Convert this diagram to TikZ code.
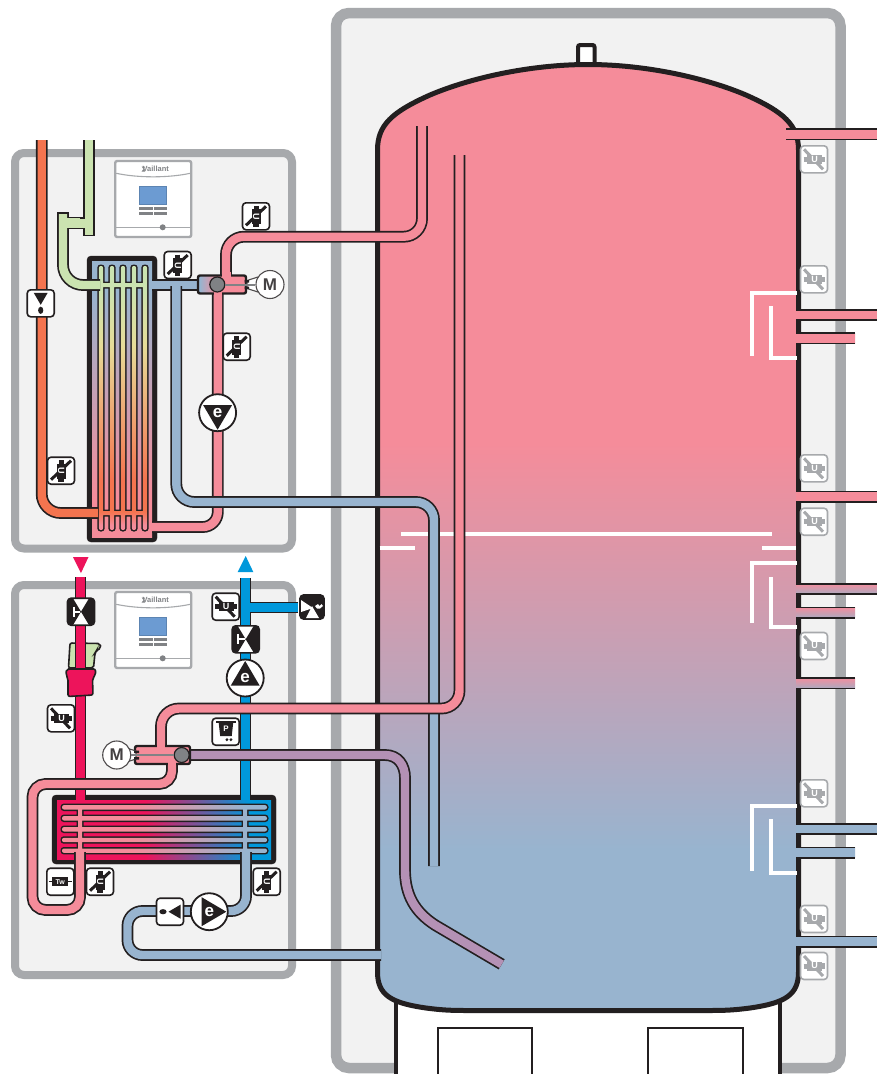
\documentclass[tikz,border=0pt]{standalone}
\usepackage{fontspec}
\setsansfont{Liberation Sans}
\usepackage{xcolor}
\definecolor{C_LINE}  {HTML}{231F20}
\definecolor{C_FRAME} {HTML}{A7A9AC}
\definecolor{C_PANEL} {HTML}{F2F2F2}
\definecolor{C_PINK}  {HTML}{F58C9A}
\definecolor{C_BLUE}  {HTML}{98B4CF}
\definecolor{C_ORANGE}{HTML}{F4744F}
\definecolor{C_GREEN} {HTML}{CBE3B0}
\definecolor{C_YEL}   {HTML}{E6DC98}
\definecolor{C_RED}   {HTML}{ED145B}
\definecolor{C_CYAN}  {HTML}{0098DB}
\definecolor{C_PURPLE}{HTML}{B491B5}
\definecolor{C_GREY}  {HTML}{808285}
\definecolor{C_SCREEN}{HTML}{6C9BD2}
\definecolor{C_MIXT}  {HTML}{F08FA0}
\definecolor{C_MIXB}  {HTML}{ABAABF}

%% -- gradients (25bp..75bp of each one spans the filled path) --
\pgfdeclareverticalshading{tankshade}{100bp}{color(0bp)=(C_BLUE); color(33.5bp)=(C_BLUE); color(55bp)=(C_PINK); color(100bp)=(C_PINK)}
\pgfdeclareverticalshading{hxupbg}{100bp}{color(0bp)=(C_PINK); color(31.7bp)=(C_PINK); color(69.7bp)=(C_BLUE); color(100bp)=(C_BLUE)}
\pgfdeclareverticalshading{hxuptube}{100bp}{color(0bp)=(C_PINK); color(26bp)=(C_PINK); color(28.5bp)=(C_ORANGE); color(34.5bp)=(C_ORANGE); color(60bp)=(C_YEL); color(70.5bp)=(C_GREEN); color(100bp)=(C_GREEN)}
\pgfdeclarehorizontalshading{hxlowbg}{100bp}{color(0bp)=(C_RED); color(45.6bp)=(C_RED); color(70bp)=(C_CYAN); color(100bp)=(C_CYAN)}
\pgfdeclarehorizontalshading{hxlowtube}{100bp}{color(0bp)=(C_PINK); color(42bp)=(C_PINK); color(70bp)=(C_BLUE); color(100bp)=(C_BLUE)}
\pgfdeclarehorizontalshading{valveshade}{100bp}{color(0bp)=(C_BLUE); color(27bp)=(C_BLUE); color(44bp)=(C_PINK); color(100bp)=(C_PINK)}

\tikzset{
  %% -- grey service panels --
  panel/frame/.style={draw=C_FRAME, fill=C_PANEL, line width=8pt, rounded corners=9pt},
  %% -- water pipe with black edges --
  pipe/main/.style={draw=C_LINE, double=#1, double distance=8.4pt, line width=1.7pt},
  %% -- symbol boxes --
  icon/box/.style={
    rectangle, rounded corners=3.5pt, minimum size=27pt, inner sep=0pt,
    fill=white, line width=1.6pt
  },
  icon/pump/.style={
    circle, minimum size=37pt, inner sep=0pt, fill=white, draw=C_LINE, line width=1.8pt
  },
  icon/motor/.style={
    circle, minimum size=28pt, inner sep=0pt, fill=white, draw=C_LINE!80, line width=1.1pt,
    font=\sffamily\bfseries\fontsize{17}{17}\selectfont, text=C_LINE!85
  },
  icon/hub/.style={circle, minimum size=15pt, inner sep=0pt, fill=C_GREY, draw=C_LINE, line width=1.2pt},
  icon/letter/.style={inner sep=0pt, text=white, font=\sffamily\bfseries\fontsize{#1}{#1}\selectfont},
  %% -- room controller --
  ctrl/box/.style={
    rectangle, rounded corners=2pt, minimum size=76pt, inner sep=0pt,
    fill=white, draw=C_FRAME, line width=2.4pt
  },
}

%% -- temperature sensor: name, x, y, angle, colour --
\newcommand{\sensoricon}[5]{
  \node[icon/box, draw=#5] (#1) at (#2,#3) {};
  \begin{scope}[shift={(#1.center)}, rotate=#4]
    \draw[#5, line width=5pt] (-10.5,0) -- (-5,0);
    \draw[#5, line width=9pt] (-7,0) -- (8,0);
    \draw[#5, line width=5.5pt] (7,0) -- (11,0);
    \draw[#5, line width=3pt] (-10,-10) -- (9,10);
    \node[icon/letter=9, transform shape] (#1L) at (0.5,-0.2) {U};
  \end{scope}
}
%% -- check valve: name, x, y, angle --
\newcommand{\checkicon}[4]{
  \node[icon/box, draw=C_LINE] (#1) at (#2,#3) {};
  \begin{scope}[shift={(#1.center)}, rotate=#4]
    \fill[C_LINE] (-7,-10.5) -- (7,-10.5) -- (0,1.5) -- cycle;
    \fill[C_LINE] (0,7) ellipse (2.6 and 3.6);
  \end{scope}
}
%% -- shut-off valve: name, x, y --
\newcommand{\shutoff}[3]{
  \node[icon/box, draw=C_LINE] (#1) at (#2,#3) {};
  \begin{scope}[shift={(#1.center)}]
    \begin{scope}
      \clip[rounded corners=3.5pt] (-13.5,-13.5) rectangle (13.5,13.5);
      \fill[C_LINE] (-13.5,-15) -- (-9,-15) -- (0,0) -- (-9,15) -- (-13.5,15) -- cycle;
      \fill[C_LINE] (13.5,-15) -- (9,-15) -- (0,0) -- (9,15) -- (13.5,15) -- cycle;
    \end{scope}
    \draw[white, line width=2pt] (-7.5,-5) -- (-7.5,5) (-7.5,0) -- (-1,0);
  \end{scope}
}
%% -- circulation pump: name, x, y, angle --
\newcommand{\pumpicon}[4]{
  \node[icon/pump] (#1) at (#2,#3) {};
  \begin{scope}[shift={(#1.center)}, rotate=#4]
    \fill[C_LINE] (0,-17) -- (14.5,7.7) -- (-14.5,7.7) -- cycle;
  \end{scope}
  \node[icon/letter=17] (#1L) at (#2,#3) {e};
}
%% -- room controller: name, x, y --
\newcommand{\ctrlbox}[3]{
  \node[ctrl/box] (#1) at (#2,#3) {};
  \begin{scope}[shift={(#1.center)}]
    \draw[C_FRAME, line width=1.1pt] (-37,-25.7) .. controls (-15,-21) and (15,-21) .. (37,-25.7);
    \node[inner sep=0pt, text=C_GREY, font=\sffamily\bfseries\fontsize{7.5}{7.5}\selectfont] (#1T) at (2.5,-30) {Vaillant};
    \fill[C_GREY] (-11.5,-32.5) -- (-8,-32.5) -- (-11.5,-27.5) -- (-8,-27.5) -- cycle;
    \fill[C_SCREEN!85!black] (-14.2,-13.5) rectangle (13.8,6);
    \fill[C_SCREEN] (-13.2,-12.5) rectangle (12.8,5);
    \foreach \yy in {8.2,12.6} {
      \fill[C_GREY] (-14.2,\yy) rectangle (-0.6,\yy+3.2);
      \fill[C_GREY] (0.4,\yy) rectangle (13.8,\yy+3.2);
    }
    \draw[C_FRAME, line width=0.9pt] (-37,28.3) -- (37,28.3);
    \fill[C_GREY] (9.5,28.3) circle (3);
  \end{scope}
}
%% -- outline of the storage vessel --
\newcommand{\tankpath}{
  (377.5,972) -- (377.5,150)
  .. controls (377.5,125) and (392,112) .. (430,95)
  .. controls (470,78) and (530,64.5) .. (588,64.5)
  .. controls (646,64.5) and (706,78) .. (746,95)
  .. controls (784,112) and (798.5,125) .. (798.5,150)
  -- (798.5,972)
  .. controls (798.5,995) and (785,1003) .. (750,1008)
  .. controls (735,1010) and (725,1010.5) .. (710,1010.5)
  -- (466,1010.5)
  .. controls (451,1010.5) and (441,1010) .. (426,1008)
  .. controls (391,1003) and (377.5,995) .. (377.5,972) -- cycle
}
\newcommand{\hxuppath}{
  \foreach \tx in {101,112,123,134,145} {(\tx-2.2,266) rectangle (\tx+2.2,530)}
  (99,283) rectangle (147,287) (99,511) rectangle (147,515)
}
\newcommand{\hxlowpath}{
  \foreach \ty in {807.3,818.3,829.3,840,850.7} {(62,\ty-2.2) rectangle (267,\ty+2.2)}
  (78,806) rectangle (82,852) (243,806) rectangle (247,852)
}

\begin{document}
\begin{tikzpicture}[x=1pt, y=-1pt]
\useasboundingbox (0,0) rectangle (877,1074);

%% ━━━━━━━━━━━━━━━━━━━━━━━━━━━━━━━━━━━━━━━━━━━━━━━━━━━━━━━━━━━━━━━━━━━━━
%%  PANELS AND VESSEL
%% ━━━━━━━━━━━━━━━━━━━━━━━━━━━━━━━━━━━━━━━━━━━━━━━━━━━━━━━━━━━━━━━━━━━━━
\fill[white] (0,0) rectangle (877,1074);
\draw[panel/frame, line width=10.5pt, rounded corners=13pt] (336,13) rectangle (840.5,1068);
\draw[panel/frame] (15,153) rectangle (292,548.5);
\draw[panel/frame] (15,585) rectangle (292,975);

%% Stand below the vessel
\fill[white] (396,1000) rectangle (780,1074);
\draw[C_LINE, line width=4pt] (396,1000) -- (396,1074) (780,1000) -- (780,1074);
\draw[C_LINE, line width=2pt] (438.3,1076) -- (438.3,1027.7) -- (531.7,1027.7) -- (531.7,1076);
\draw[C_LINE, line width=2pt] (648,1076) -- (648,1027.7) -- (743,1027.7) -- (743,1076);

%% Vent on top of the vessel
\draw[C_LINE, fill=white, line width=4pt, rounded corners=2pt] (578,68) -- (578,45) -- (594.5,45) -- (594.5,68);

%% Vessel
\shade[shading=tankshade] \tankpath;
\draw[C_LINE, line width=5pt] \tankpath;

%% White baffles
\draw[white, line width=4pt] (401,534.3) -- (772,534.3);
\draw[white, line width=4pt] (379.5,547.5) -- (415,547.5) (762,547.5) -- (796,547.5);
\foreach \ya/\yb/\yc/\yd in {293.3/356/306/357.7, 562.7/623.3/577.3/626.7, 806/871/819/873.3} {
  \draw[white, line width=4pt] (796.5,\ya) -- (752.3,\ya) -- (752.3,\yb);
  \draw[white, line width=4pt] (770.7,\yc) -- (770.7,\yd) -- (796.5,\yd);
}

%% Connections on the right
\foreach \yy/\xs/\xe/\ct/\cb in {
  134.3/786/877/C_PINK/C_PINK, 315/796/877/C_PINK/C_PINK, 338.3/796/855/C_PINK/C_PINK,
  496.7/796/877/C_PINK/C_PINK, 589/796/877/C_MIXT/C_MIXB, 612.7/796/855/C_MIXT/C_MIXB,
  683.3/796/855/C_MIXT/C_MIXB, 829/796/877/C_BLUE/C_BLUE, 852.7/796/855/C_BLUE/C_BLUE,
  941.7/796/877/C_BLUE/C_BLUE} {
  \shade[top color=\ct, bottom color=\cb] (\xs,\yy-5) rectangle (\xe,\yy+5);
  \draw[C_LINE, line width=1.7pt] (\xs,\yy-5.3) -- (\xe,\yy-5.3) (\xs,\yy+5.3) -- (\xe,\yy+5.3);
}

%% Sensors on the vessel
\foreach \nn/\yy in {a/159.3, b/279.3, c/468.3, d/521.7, e/646, f/793.3, g/919, h/966} {
  \sensoricon{tank\nn}{814}{\yy}{0}{C_FRAME}
}

%% ━━━━━━━━━━━━━━━━━━━━━━━━━━━━━━━━━━━━━━━━━━━━━━━━━━━━━━━━━━━━━━━━━━━━━
%%  UPPER PANEL
%% ━━━━━━━━━━━━━━━━━━━━━━━━━━━━━━━━━━━━━━━━━━━━━━━━━━━━━━━━━━━━━━━━━━━━━
\ctrlbox{ctrlUp}{153.2}{199}

%% Plate exchanger
\draw[C_LINE, fill=C_LINE, rounded corners=4pt] (87,256) rectangle (157,542);
\shade[shading=hxupbg] (92,261) rectangle (152,537);
\draw[C_LINE, fill=C_LINE, line width=3pt, rounded corners=2pt] \hxuppath;
\shade[shading=hxuptube, rounded corners=2pt] \hxuppath;

%% Pipes
\draw[pipe/main=C_ORANGE, rounded corners=19pt] (41.7,140) -- (41.7,513) -- (98,513);
\draw[pipe/main=C_GREEN] (89,140) -- (89,235) (89,223.3) -- (63,223.3);
\draw[pipe/main=C_GREEN, rounded corners=20pt] (63,213) -- (63,285) -- (100,285);
\fill[C_GREEN] (58.8,218) rectangle (80,227.5);
\draw[C_LINE, line width=1.4pt] (83,235.5) -- (95,235.5) (57,213) -- (69,213);
\draw[pipe/main=C_PINK, rounded corners=15pt] (217.8,290) -- (217.8,527) -- (152,527);
\draw[pipe/main=C_BLUE] (152,285) -- (200,285);
\draw[pipe/main=C_BLUE, rounded corners=18pt] (176.3,286) -- (176.3,502) -- (434,502) -- (434,866);
\draw[pipe/main=C_PINK, rounded corners=18pt] (422,126) -- (422,236.7) -- (226,236.7) -- (226,280);

%% Mixing valve and motor
\path[draw=C_LINE, line width=2.4pt, rounded corners=2pt, shade, shading=valveshade] (198,275.5) rectangle (246,293.5);
\fill[C_PINK] (221.5,272) rectangle (230.5,279);
\fill[C_PINK] (213.5,291) rectangle (222,296);
\draw[C_LINE!80, fill=white, line width=1.1pt] (258,277) -- (247,280.5) -- (247,288.5) -- (258,292) -- cycle;
\node[icon/motor] (motorUp) at (270,284.5) {M};
\node[icon/hub] (hubUp) at (217.3,284.5) {};
\draw[C_GREY, line width=2pt] (hubUp) -- (motorUp.west);
\fill[C_LINE] (244.5,280) rectangle (249,282.5) (244.5,286.5) rectangle (249,289);

\pumpicon{pumpUp}{217.6}{412.7}{180}
\sensoricon{senUpA}{256}{216.3}{-90}{C_LINE}
\sensoricon{senUpB}{177.7}{265}{-90}{C_LINE}
\sensoricon{senUpC}{236.7}{346.7}{-90}{C_LINE}
\sensoricon{senUpD}{61}{470.7}{-90}{C_LINE}
\checkicon{chkUp}{40.7}{303.3}{0}

%% ━━━━━━━━━━━━━━━━━━━━━━━━━━━━━━━━━━━━━━━━━━━━━━━━━━━━━━━━━━━━━━━━━━━━━
%%  LOWER PANEL
%% ━━━━━━━━━━━━━━━━━━━━━━━━━━━━━━━━━━━━━━━━━━━━━━━━━━━━━━━━━━━━━━━━━━━━━
\ctrlbox{ctrlLow}{153.2}{630}

%% Flow direction marks
\fill[C_RED] (73,557) -- (88.5,557) -- (81,573) -- cycle;
\fill[C_CYAN] (237.7,572) -- (253.3,572) -- (245.7,556) -- cycle;

%% Plate exchanger
\draw[C_LINE, fill=C_LINE, rounded corners=4pt] (52,795) rectangle (276,864);
\shade[shading=hxlowbg] (57,800) rectangle (271,859);
\draw[C_LINE, fill=C_LINE, line width=3pt, rounded corners=2pt] \hxlowpath;
\shade[shading=hxlowtube, rounded corners=2pt] \hxlowpath;

%% Cold and hot water
\draw[C_LINE, line width=1.6pt, fill=C_GREEN, rounded corners=2pt]
  (70,643) -- (100,643.5) -- (101,648) -- (96.5,650.5) -- (95,653) -- (93.5,668) -- (68.5,668) -- cycle;
\draw[pipe/main=C_RED] (80.5,577) -- (80.5,800);
\draw[C_LINE, line width=1.6pt, fill=C_RED, rounded corners=2pt]
  (66.5,669) -- (95.5,669) -- (95.5,675) -- (92.5,678.5) -- (93,695) -- (68,696.5) -- (68,678.5) -- (66,675) -- cycle;
\draw[pipe/main=C_CYAN] (245.4,578) -- (245.4,800) (245.4,607.5) -- (298,607.5);

%% Vessel charging pipes
\draw[pipe/main=C_PINK, rounded corners=13pt] (172,762) -- (172,784) -- (32.5,784) -- (32.5,910) -- (80,910) -- (80,852);
\draw[pipe/main=C_BLUE, rounded corners=15pt] (381,955) -- (127.5,955) -- (127.5,911) -- (246,911) -- (246,852);
\draw[pipe/main=C_PURPLE] (182,755) -- (385,755) .. controls (398,755) and (405,765) .. (405,778) -- (405,870)
  .. controls (405,895) and (415,912) .. (435,925) -- (501.7,964.3);
\draw[pipe/main=C_PINK, rounded corners=18pt] (459.5,155) -- (459.5,708.5) -- (161,708.5) -- (161,748);

%% Mixing valve and motor
\draw[C_LINE, fill=C_PINK, line width=2.4pt, rounded corners=2pt] (135,746) rectangle (190,764);
\fill[C_PINK] (156.8,743) rectangle (165.2,750);
\fill[C_PINK] (167.8,762) rectangle (176.2,767);
\draw[C_LINE!80, fill=white, line width=1.1pt] (125,747.5) -- (136,751) -- (136,759) -- (125,762.5) -- cycle;
\node[icon/motor] (motorLow) at (116.7,755) {M};
\node[icon/hub] (hubLow) at (181.7,755) {};
\draw[C_GREY, line width=2pt] (hubLow) -- (motorLow.east);
\fill[C_LINE] (134,750.5) rectangle (139,753) (134,757) rectangle (139,759.5);

\pumpicon{pumpLowA}{245.2}{678}{0}
\pumpicon{pumpLowB}{209.3}{911.7}{-90}
\shutoff{offRed}{81}{611.7}
\shutoff{offBlue}{245.7}{639.3}
\sensoricon{senLowA}{61}{718.3}{0}{C_LINE}
\sensoricon{senLowB}{225.7}{606.7}{0}{C_LINE}
\sensoricon{senLowC}{100}{881.7}{-90}{C_LINE}
\sensoricon{senLowD}{266.7}{881.7}{-90}{C_LINE}
\checkicon{chkLow}{170}{911.7}{-90}

%% Safety valve
\node[icon/box, fill=C_LINE, draw=C_LINE, minimum size=24pt] (safety) at (312,607) {};
\begin{scope}[shift={(safety.center)}]
  \fill[white] (-11,-7) -- (-11,5) -- (1,1) -- cycle;
  \fill[white] (-6,11) -- (7,11) -- (0,-1) -- cycle;
  \fill[white] (3,-1) -- (6,-3) -- (7.5,-1) -- (9.5,-3) -- (11,-1) -- (8,1.5) -- (5,1.5) -- cycle;
\end{scope}

%% Pressure sensor
\node[icon/box, draw=C_LINE] (pressure) at (225.7,731.7) {};
\begin{scope}[shift={(pressure.center)}]
  \draw[C_LINE, line width=2.4pt] (-9.5,-9.5) -- (10,-9.5);
  \fill[C_LINE] (-7,-9) -- (7.5,-9) -- (6,4.5) -- (-5.5,4.5) -- cycle;
  \node[icon/letter=8] (pressureL) at (0.3,-2.5) {P};
  \fill[C_LINE] (1.2,8) circle (1.6) (5.2,8) circle (1.6);
\end{scope}

%% Water temperature sensor
\node[icon/box, draw=C_LINE] (tw) at (60.3,881.7) {};
\begin{scope}[shift={(tw.center)}]
  \draw[C_LINE, line width=1.4pt] (-11.5,0) -- (11.5,0);
  \fill[C_LINE] (-8,-4.5) rectangle (8,4.5);
  \node[icon/letter=7] (twL) at (0,0) {Tw};
\end{scope}

\end{tikzpicture}
\end{document}
